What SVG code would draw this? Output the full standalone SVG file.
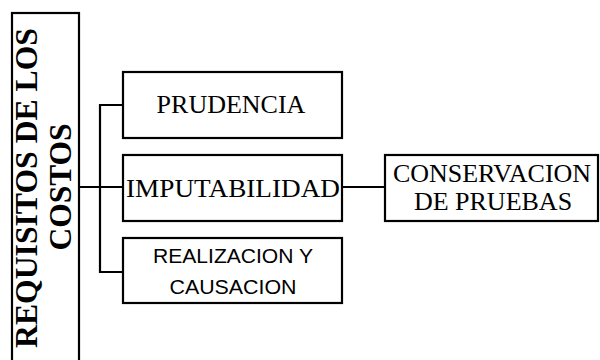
<svg xmlns="http://www.w3.org/2000/svg" width="600" height="360" viewBox="0 0 600 360">
<style>
.box{fill:#fff;stroke:#000;stroke-width:2.2}
.con{fill:none;stroke:#000;stroke-width:2.2}
.serif{font-size:26px;fill:#000}
.sans{font-size:20px;fill:#000}
.title{font-size:31px;font-weight:bold;fill:#000}
</style>
<rect width="600" height="360" fill="#fff"/>
<g id="connectors">
<line class="con" x1="79" y1="187" x2="123" y2="187"/>
<polyline class="con" points="123,105 100,105 100,272 123,272"/>
<line class="con" x1="342" y1="187" x2="385" y2="187"/>
</g>
<g id="requisitos">
<rect class="box" x="12" y="13" width="67" height="360"/>
<text class="title" font-family="Liberation Serif, DejaVu Serif, serif" text-anchor="middle" transform="translate(37,188) rotate(-90)" textLength="320" lengthAdjust="spacingAndGlyphs">REQUISITOS DE LOS</text>
<text class="title" font-family="Liberation Serif, DejaVu Serif, serif" text-anchor="middle" transform="translate(71,187) rotate(-90)" textLength="127" lengthAdjust="spacingAndGlyphs">COSTOS</text>
</g>
<g id="prudencia">
<rect class="box" x="123" y="72" width="219" height="66"/>
<text class="serif" font-family="Liberation Serif, DejaVu Serif, serif" x="231" y="113" text-anchor="middle">PRUDENCIA</text>
</g>
<g id="imputabilidad">
<rect class="box" x="123" y="155" width="219" height="66"/>
<text class="serif" font-family="Liberation Serif, DejaVu Serif, serif" x="233" y="197" text-anchor="middle" textLength="214" lengthAdjust="spacingAndGlyphs">IMPUTABILIDAD</text>
</g>
<g id="realizacion">
<rect class="box" x="123" y="238" width="219" height="65"/>
<text class="sans" font-family="Liberation Sans, Arial, sans-serif" x="233" y="263" text-anchor="middle" textLength="160" lengthAdjust="spacingAndGlyphs">REALIZACION Y</text>
<text class="sans" font-family="Liberation Sans, Arial, sans-serif" x="233" y="294" text-anchor="middle" textLength="127" lengthAdjust="spacingAndGlyphs">CAUSACION</text>
</g>
<g id="conservacion">
<rect class="box" x="385" y="155" width="213" height="66"/>
<text class="serif" font-family="Liberation Serif, DejaVu Serif, serif" x="492" y="182" text-anchor="middle">CONSERVACION</text>
<text class="serif" font-family="Liberation Serif, DejaVu Serif, serif" x="493" y="210" text-anchor="middle">DE PRUEBAS</text>
</g>
</svg>
